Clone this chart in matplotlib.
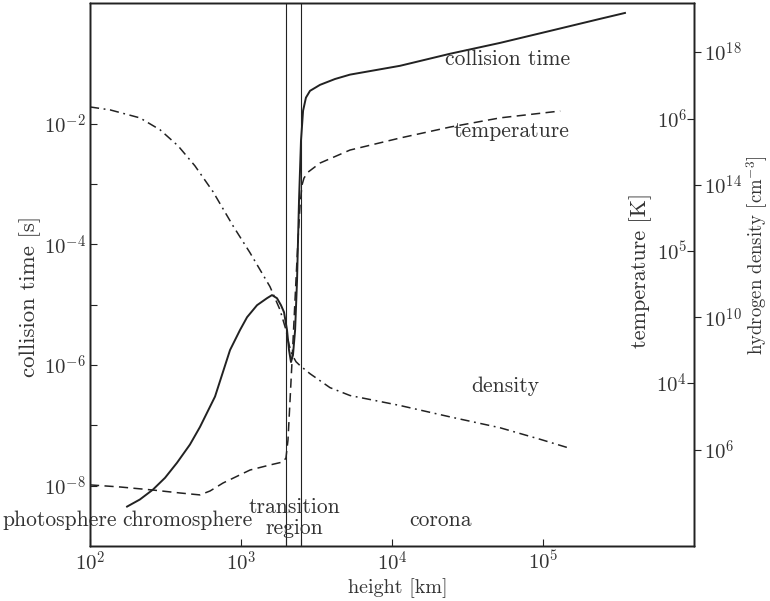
import matplotlib
matplotlib.use("Agg")
from matplotlib import pyplot as plt
from matplotlib.ticker import FixedLocator, FixedFormatter, NullLocator, NullFormatter

plt.rcParams["font.family"] = "serif"
plt.rcParams["font.serif"] = ["cmr10", "DejaVu Serif"]
plt.rcParams["mathtext.fontset"] = "cm"
plt.rcParams["axes.unicode_minus"] = False

# collision time [s] vs height [km]
h_coll = [176, 214, 261, 314, 377, 459, 535, 673, 846, 985, 1097, 1277, 1486, 1604,
          1731, 1840, 1927, 2017, 2080, 2143, 2209, 2282, 2350, 2422, 2496, 2577,
          2692, 2864, 3337, 4195, 5270, 11300, 24200, 51900, 111000, 238000, 349000]
t_coll = [4.5e-9, 5.9e-9, 8.6e-9, 1.35e-8, 2.4e-8, 4.8e-8, 9.4e-8, 3.0e-7, 1.77e-6,
          3.8e-6, 6.2e-6, 9.8e-6, 1.28e-5, 1.44e-5, 1.28e-5, 9.8e-6, 7.5e-6, 3.8e-6,
          1.77e-6, 1.12e-6, 1.46e-6, 3.8e-6, 2.5e-5, 5.3e-4, 5.2e-3, 1.64e-2, 2.7e-2,
          3.5e-2, 4.4e-2, 5.5e-2, 6.5e-2, 9.1e-2, 0.144, 0.218, 0.344, 0.545, 0.684]

# temperature [K]
h_temp = [100, 158, 261, 394, 535, 624, 760, 1148, 1556, 1898, 1985, 2047, 2113, 2179,
          2245, 2313, 2384, 2462, 2535, 2613, 2780, 3337, 5270, 11300, 24200, 51900,
          130000]
temp = [1690, 1630, 1545, 1468, 1419, 1520, 1746, 2191, 2393, 2523, 2704, 3700, 7430,
        14900, 30000, 60300, 121000, 223000, 316000, 357000, 396000, 464000, 582000,
        718000, 869000, 1.02e6, 1.15e6]

# hydrogen density [cm^-3]
h_dens = [100, 136, 214, 291, 383, 495, 653, 886, 1148, 1556, 1811, 1985, 2080, 2179,
          2313, 2462, 2864, 3885, 5270, 11300, 24200, 51900, 96000, 144000]
dens = [2.2e16, 1.79e16, 1.03e16, 4.5e15, 1.48e15, 3.7e14, 6.1e13, 5.7e12, 8.8e11,
        8.4e10, 1.7e10, 4.2e9, 1.5e9, 7.5e8, 4.6e8, 3.5e8, 2.0e8, 7.6e7, 4.4e7, 2.2e7,
        1.0e7, 4.7e6, 2.1e6, 1.2e6]

boundaries = [2000, 2500]
x_ticks = [1e2, 1e3, 1e4, 1e5]
x_labels = [r"$10^{2}$", r"$10^{3}$", r"$10^{4}$", r"$10^{5}$"]
t_ticks = [1e-8, 1e-6, 1e-4, 1e-2]
t_labels = [r"$10^{-8}$", r"$10^{-6}$", r"$10^{-4}$", r"$10^{-2}$"]
t_minor = [1e-7, 1e-5, 1e-3]
T_ticks = [1e4, 1e5, 1e6]
T_labels = [r"$10^{4}$", r"$10^{5}$", r"$10^{6}$"]
n_ticks = [1e6, 1e10, 1e14, 1e18]
n_labels = [r"$10^{6}$", r"$10^{10}$", r"$10^{14}$", r"$10^{18}$"]

ink = "#222222"
txt = "#333333"
W, H = 770, 601
fs = 15.5

fig = plt.figure(figsize=(7.7, 6.01), dpi=100)
ax = fig.add_axes([90 / W, (H - 546) / H, (694 - 90) / W, (546 - 3) / H])
ax2 = ax.twinx()
ax3 = ax.twinx()

ax.set_xscale("log")
ax.set_yscale("log")
ax.set_xlim(1e2, 1e6)
ax.set_ylim(1e-9, 1e0)

ax.plot(h_coll, t_coll, color=ink, lw=1.4, solid_joinstyle="round")
for b in boundaries:
    ax.axvline(b, color=ink, lw=0.8)

ax2.set_yscale("log")
ax2.set_ylim(582, 7.57e6)
ax2.plot(h_temp, temp, color=ink, lw=1.1, dashes=(6, 3.5))

ax3.set_yscale("log")
ax3.set_ylim(1.28e3, 2.99e19)
ax3.plot(h_dens, dens, color=ink, lw=1.1, dashes=(6, 3, 1.2, 3))

# x axis
ax.xaxis.set_major_locator(FixedLocator(x_ticks + boundaries))
ax.xaxis.set_major_formatter(FixedFormatter(x_labels + ["", ""]))
ax.xaxis.set_minor_locator(NullLocator())
ax.tick_params(axis="x", which="both", direction="in", length=5, width=0.8,
               top=False, labelsize=15, colors=ink, labelcolor=txt, pad=3)

# left axis
ax.yaxis.set_major_locator(FixedLocator(t_ticks))
ax.yaxis.set_major_formatter(FixedFormatter(t_labels))
ax.yaxis.set_minor_locator(FixedLocator(t_minor))
ax.yaxis.set_minor_formatter(NullFormatter())
ax.tick_params(axis="y", which="both", direction="in", length=5, width=0.8,
               right=False, labelsize=15, colors=ink, labelcolor=txt, pad=3)

# temperature axis: ticks and labels inside
ax2.yaxis.set_major_locator(FixedLocator(T_ticks))
ax2.yaxis.set_major_formatter(FixedFormatter(T_labels))
ax2.yaxis.set_minor_locator(NullLocator())
ax2.yaxis.set_minor_formatter(NullFormatter())
ax2.tick_params(axis="y", which="both", direction="in", length=5, width=0.8,
                labelsize=15, colors=ink, labelcolor=txt, pad=-5)
for lab in ax2.get_yticklabels():
    lab.set_horizontalalignment("right")

# density axis: ticks outside
ax3.yaxis.set_major_locator(FixedLocator(n_ticks))
ax3.yaxis.set_major_formatter(FixedFormatter(n_labels))
ax3.yaxis.set_minor_locator(NullLocator())
ax3.yaxis.set_minor_formatter(NullFormatter())
ax3.tick_params(axis="y", which="both", direction="out", length=5, width=0.8,
                labelsize=15, colors=ink, labelcolor=txt, pad=2)

for a in (ax, ax2, ax3):
    for s in a.spines.values():
        s.set_color(ink)
        s.set_linewidth(1.0)

# curve names and regions
kw = dict(fontsize=fs, color=txt, ha="center", va="center")
ax.text(58600, 0.119, "collision time", **kw)
ax.text(61400, 7.4e-3, "temperature", **kw)
ax.text(56000, 4.5e-7, "density", **kw)
ax.text(63, 2.7e-9, "photosphere", **kw)
ax.text(439, 2.7e-9, "chromosphere", **kw)
ax.text(2245, 4.4e-9, "transition", **kw)
ax.text(2245, 2.0e-9, "region", **kw)
ax.text(20800, 2.7e-9, "corona", **kw)

fig.text(398 / W, 1 - 588 / H, "height [km]", fontsize=14.5, color=txt, ha="center", va="center")
fig.text(30 / W, 1 - 296 / H, "collision time [s]", fontsize=16.5, color=txt,
         rotation=90, ha="center", va="center")
fig.text(641 / W, 1 - 270 / H, "temperature [K]", fontsize=16, color=txt,
         rotation=90, ha="center", va="center")
fig.text(757 / W, 1 - 255 / H, r"hydrogen density [cm$^{-3}$]", fontsize=13.5, color=txt,
         rotation=90, ha="center", va="center")

fig.savefig("out.png", dpi=100)
